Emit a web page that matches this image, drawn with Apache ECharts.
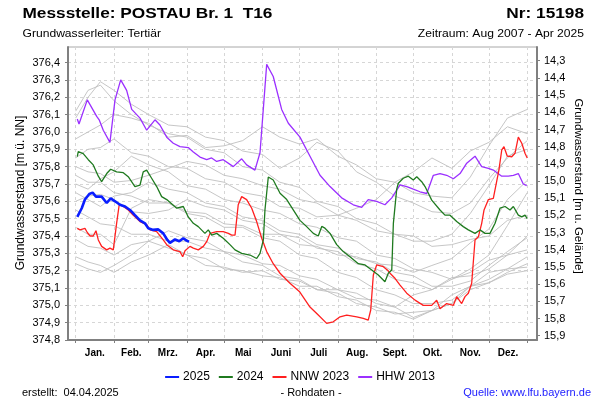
<!DOCTYPE html>
<html><head><meta charset="utf-8">
<script src="https://cdn.jsdelivr.net/npm/echarts@6/dist/echarts.min.js"></script>
<style>html,body{margin:0;padding:0;background:#fff}#c{width:600px;height:400px}</style>
</head><body><div id="c"></div>
<script>
const months = ['Jan.','Feb.','Mrz.','Apr.','Mai','Juni','Juli','Aug.','Sept.','Okt.','Nov.','Dez.'];
const monthStarts = [0,31,59,90,120,151,181,212,243,273,304,334,365];
const monthMids = [15.5,45,74.5,105,135.5,166,196.5,227.5,258,288.5,319,349.5];
const levelTicks = [374.8,374.9,375.0,375.1,375.2,375.3,375.4,375.5,375.6,375.7,375.8,375.9,376.0,376.1,376.2,376.3,376.4];
const depthTicks = [14.3,14.4,14.5,14.6,14.7,14.8,14.9,15.0,15.1,15.2,15.3,15.4,15.5,15.6,15.7,15.8,15.9];

const y2025 = [[1.3,375.51],[2.5,375.50],[4.9,375.56],[7.5,375.61],[11,375.642],[13.7,375.65],[16.4,375.627],[21,375.627],[25.1,375.59],[28.3,375.617],[31.8,375.60],[35.8,375.58],[39.9,375.57],[43.9,375.55],[47.9,375.52],[52,375.49],[56,375.473],[58.7,375.444],[62.7,375.435],[66.8,375.438],[70.8,375.415],[74.1,375.377],[76.2,375.36],[80.3,375.38],[83.8,375.37],[87,375.387],[89.7,375.373],[91.6,375.367]];

const y2024 = [[1.3,375.857],[2.1,375.886],[6.1,375.875],[10.2,375.84],[14.2,375.81],[18.3,375.745],[21,375.713],[22.3,375.713],[25.1,375.76],[28.3,375.785],[33.1,375.77],[38.5,375.765],[42.5,375.742],[47.9,375.685],[52,375.694],[54.6,375.77],[57.4,375.78],[61.4,375.733],[65.5,375.685],[69.5,375.627],[73.6,375.61],[81.7,375.56],[87,375.57],[91,375.51],[95.1,375.473],[99.1,375.454],[104.5,375.415],[107.2,375.435],[109.9,375.405],[114,375.415],[119.3,375.387],[124.7,375.35],[128.8,375.32],[134.2,375.30],[140.9,375.29],[146.3,375.27],[149,375.30],[151.7,375.377],[153,375.55],[155.7,375.74],[159.7,375.723],[165.2,375.646],[170.6,375.61],[181.3,375.49],[186.7,375.454],[192.1,375.415],[196.1,375.40],[198.9,375.455],[201.5,375.445],[205.6,375.415],[211,375.35],[216.3,375.31],[221.7,375.28],[228.5,375.24],[233.9,375.233],[239.3,375.204],[244.6,375.175],[250,375.136],[252.7,375.185],[255.5,375.204],[256.8,375.473],[259.5,375.67],[260.8,375.704],[264.8,375.733],[268.9,375.745],[272.9,375.723],[275.7,375.742],[279.7,375.713],[282.4,375.685],[285.1,375.646],[287.8,375.607],[294.5,375.55],[298.5,375.52],[302.6,375.52],[308,375.483],[313.3,375.454],[317.4,375.435],[322.8,375.415],[326.8,375.435],[330.9,375.415],[334.9,375.415],[339,375.473],[343,375.56],[347.1,375.57],[351.1,375.55],[353.8,375.57],[357.8,375.52],[360.6,375.51],[363.2,375.52],[365,375.50]];

const nnw2023 = [[1.3,375.444],[3.5,375.435],[7.5,375.444],[9.4,375.42],[11.6,375.40],[14.2,375.40],[16.4,375.43],[18.3,375.377],[21,375.34],[25.1,375.32],[27.7,375.33],[30.4,375.32],[31.8,375.315],[33.1,375.473],[35.2,375.58],[38.5,375.57],[42.5,375.55],[46.6,375.52],[52,375.483],[57.4,375.465],[60.1,375.435],[65.5,375.425],[70.8,375.377],[73.6,375.35],[78.9,375.32],[84.3,375.31],[86.5,375.28],[88.4,375.315],[92.4,375.34],[95.1,375.33],[99.1,375.32],[103.2,375.34],[105.9,375.367],[108.6,375.415],[114,375.425],[119.3,375.425],[123.4,375.415],[126.1,375.405],[128.8,375.405],[131.4,375.58],[134.2,375.627],[138.2,375.61],[142.3,375.56],[146.3,375.483],[150.4,375.387],[154.4,375.31],[159.7,375.24],[165.2,375.185],[173.2,375.127],[180.8,375.08],[189.4,374.99],[196.1,374.944],[202.9,374.896],[208.2,374.905],[213.7,374.934],[219.1,374.944],[227.2,374.934],[232.5,374.925],[236.5,374.915],[238.5,374.973],[240.6,375.175],[243.3,375.233],[248.7,375.223],[251.9,375.204],[254.1,375.185],[258.1,375.156],[262.2,375.117],[267.6,375.07],[274.3,375.03],[281,375.00],[287.8,375.00],[291.8,375.03],[294.5,374.98],[299.9,375.01],[305.3,375.00],[308,375.05],[312,375.01],[314.7,375.05],[317.4,375.07],[320.1,375.127],[322.8,375.377],[325.5,375.395],[328.2,375.473],[330.1,375.55],[333.6,375.61],[337.6,375.617],[342.1,375.78],[344.4,375.896],[346.2,375.915],[348.9,375.86],[352.5,375.857],[355.1,375.877],[357.8,375.97],[360.6,375.935],[363.2,375.877],[365,375.85]];

const hhw2013 = [[1.3,376.075],[2.7,376.046],[9.4,376.185],[17,376.09],[19,376.07],[22.3,376.01],[27.7,375.94],[31.8,376.185],[36.4,376.30],[41.2,376.24],[45.3,376.13],[52,376.08],[57.4,376.01],[64.1,376.07],[68.1,376.04],[73.6,375.97],[78.9,375.935],[84.3,375.915],[91,375.91],[95.1,375.885],[100.5,375.855],[105.9,375.84],[109.9,375.85],[114,375.83],[119.3,375.84],[127.4,375.80],[134.2,375.845],[138.2,375.81],[144.9,375.78],[149,375.88],[154.4,376.39],[159.7,376.32],[166.5,376.13],[171.9,376.05],[181.3,375.97],[189.4,375.86],[197.5,375.75],[205.6,375.685],[215,375.62],[224.4,375.58],[231.2,375.565],[236.5,375.61],[243.3,375.60],[250,375.58],[255.5,375.62],[259.5,375.665],[262.2,375.695],[267.6,375.685],[272.9,375.67],[278.3,375.655],[283.8,375.645],[289.1,375.75],[294.5,375.76],[299.9,375.75],[305.3,375.73],[310.7,375.76],[316.1,375.82],[322.8,375.86],[328.2,375.80],[333.6,375.79],[337.6,375.78],[344.4,375.745],[349.7,375.745],[353.8,375.75],[357.8,375.76],[361.8,375.70],[364.6,375.69]];

const greyDays = [0,10,20,31,45,59,75,90,105,120,135,151,165,181,195,212,227,243,258,273,288,304,319,334,349,365];
const greyLines = [
 [376.12,376.24,376.27,376.18,376.10,376.04,375.99,375.97,375.90,375.88,375.80,375.78,375.71,375.68,375.60,375.57,375.50,375.47,375.41,375.40,375.34,375.35,375.38,375.40,375.49,375.52],
 [375.96,376.00,376.04,376.10,376.08,376.05,375.97,375.98,375.91,375.92,375.95,376.03,375.97,375.93,375.96,375.86,375.81,375.73,375.71,375.65,375.63,375.62,375.74,375.92,376.08,376.13],
 [375.85,375.90,375.91,375.96,375.88,375.86,375.80,375.79,375.73,375.71,375.65,375.63,375.57,375.56,375.51,375.52,375.56,375.61,375.71,375.77,375.85,375.79,375.89,375.94,376.03,375.99],
 [375.80,375.77,375.76,375.71,375.72,375.75,375.79,375.83,375.81,375.75,375.73,375.69,375.67,375.61,375.59,375.52,375.49,375.43,375.41,375.37,375.37,375.41,375.53,375.69,375.86,375.90],
 [375.75,375.71,375.71,375.65,375.63,375.59,375.59,375.54,375.53,375.47,375.46,375.41,375.41,375.35,375.34,375.29,375.28,375.24,375.23,375.19,375.23,375.27,375.36,375.44,375.61,375.72],
 [375.70,375.67,375.73,375.77,375.86,375.81,375.77,375.69,375.67,375.61,375.59,375.55,375.53,375.47,375.45,375.39,375.37,375.29,375.27,375.21,375.19,375.15,375.21,375.29,375.46,375.65],
 [375.65,375.61,375.57,375.63,375.65,375.71,375.67,375.65,375.59,375.57,375.51,375.49,375.43,375.41,375.35,375.33,375.27,375.25,375.19,375.17,375.11,375.11,375.14,375.23,375.31,375.39],
 [375.60,375.63,375.64,375.61,375.54,375.53,375.55,375.61,375.57,375.55,375.49,375.47,375.41,375.39,375.33,375.31,375.24,375.21,375.15,375.13,375.09,375.15,375.19,375.26,375.29,375.32],
 [375.55,375.51,375.47,375.46,375.41,375.41,375.37,375.37,375.33,375.31,375.25,375.23,375.17,375.15,375.09,375.07,375.01,374.99,374.95,374.96,374.97,375.06,375.11,375.19,375.21,375.28],
 [375.45,375.41,375.41,375.35,375.56,375.61,375.59,375.53,375.51,375.45,375.45,375.39,375.37,375.29,375.27,375.19,375.16,375.09,375.06,375.01,375.01,375.03,375.11,375.15,375.21,375.22],
 [375.38,375.34,375.33,375.29,375.35,375.37,375.43,375.39,375.37,375.31,375.29,375.24,375.23,375.17,375.15,375.09,375.07,375.01,374.99,374.93,374.97,375.01,375.11,375.13,375.18,375.20],
 [375.28,375.25,375.23,375.19,375.25,375.29,375.35,375.29,375.27,375.21,375.20,375.17,375.16,375.11,375.11,375.05,375.03,374.97,374.96,374.92,374.97,375.01,375.09,375.13,375.19,375.24],
 [375.24,375.21,375.19,375.23,375.29,375.37,375.33,375.29,375.23,375.22,375.19,375.20,375.15,375.14,375.09,375.09,375.04,375.03,374.99,375.06,375.09,375.16,375.17,375.21,375.29,375.40],
 [376.08,376.20,376.29,376.24,376.16,376.10,376.04,376.03,375.97,375.95,375.89,375.87,375.79,375.85,375.94,375.89,375.77,375.71,375.63,375.59,375.54,375.53,375.59,375.73,375.85,375.95]
];

const FONT = '"Liberation Sans", Arial, sans-serif';
const fmt = v => v.toFixed(1).replace('.', ',');

const series = [];
greyLines.forEach((vals, i) => {
  series.push({
    name: 'grey' + i, type: 'line', xAxisIndex: 0, yAxisIndex: 0,
    data: greyDays.map((d, k) => [d, vals[k]]).filter(p => p[1] !== undefined),
    symbol: 'none', silent: true, z: 1,
    lineStyle: { color: '#bfbfbf', width: 0.9 }
  });
});
series.push({ name: 'HHW 2013', type: 'line', data: hhw2013, symbol: 'none', z: 3, lineStyle: { color: '#9b30ff', width: 1.3 }, itemStyle: { color: '#9b30ff' } });
series.push({ name: 'NNW 2023', type: 'line', data: nnw2023, symbol: 'none', z: 4, lineStyle: { color: '#ff2020', width: 1.3 }, itemStyle: { color: '#ff2020' } });
series.push({ name: '2024', type: 'line', data: y2024, symbol: 'none', z: 5, lineStyle: { color: '#1f7a1f', width: 1.3 }, itemStyle: { color: '#1f7a1f' } });
series.push({ name: '2025', type: 'line', data: y2025, symbol: 'none', z: 6, lineStyle: { color: '#0a1eff', width: 2.6 }, itemStyle: { color: '#0a1eff' } });

const chart = echarts.init(document.getElementById('c'), null, { renderer: 'canvas' });
chart.setOption({
  animation: false,
  backgroundColor: '#fff',
  textStyle: { fontFamily: FONT },
  grid: { left: 68, right: 63, top: 47, bottom: 60, show: true, borderColor: '#a8a8a8', borderWidth: 1 },
  legend: {
    data: ['2025', '2024', 'NNW 2023', 'HHW 2013'],
    left: 'center', top: 366, icon: 'rect', itemWidth: 14, itemHeight: 2, itemGap: 9,
    textStyle: { fontSize: 12, color: '#000', fontFamily: FONT, padding: [0, 0, 0, -1] }
  },
  xAxis: {
    type: 'value', min: -6.2, max: 372.9,
    axisLine: { show: true, onZero: false, lineStyle: { color: '#808080', width: 2 } },
    axisTick: { show: true, length: 3, customValues: monthStarts, lineStyle: { color: '#808080' } },
    axisLabel: { customValues: monthMids, margin: 8, fontSize: 10, fontWeight: 'bold', color: '#000', fontFamily: FONT,
      formatter: v => months[monthMids.indexOf(v)] || '' },
    splitLine: { show: true, lineStyle: { color: '#d6d6d6', type: [3, 3], width: 1 } }
  },
  yAxis: [{
    type: 'value', min: 374.8, max: 376.49, position: 'left',
    axisLine: { show: true, onZero: false, lineStyle: { color: '#808080', width: 2 } },
    axisTick: { show: true, length: 3, customValues: levelTicks, lineStyle: { color: '#808080' } },
    axisLabel: { customValues: levelTicks, margin: 8, fontSize: 11, color: '#000', fontFamily: FONT, formatter: fmt },
    splitLine: { show: true, lineStyle: { color: '#d6d6d6', type: [3, 3], width: 1 } }
  }, {
    type: 'value', min: 14.22, max: 15.925, inverse: true, position: 'right',
    axisLine: { show: true, onZero: false, lineStyle: { color: '#808080', width: 2 } },
    axisTick: { show: true, length: 3, customValues: depthTicks, lineStyle: { color: '#808080' } },
    axisLabel: { customValues: depthTicks, margin: 7, fontSize: 11, color: '#000', fontFamily: FONT, formatter: fmt },
    splitLine: { show: false }
  }],
  graphic: [
    { type: 'text', x: 22.5, y: 14, scaleX: 1.15, style: { text: 'Messstelle: POSTAU Br. 1  T16', fontSize: 15, fontWeight: 'bold', fontFamily: FONT, fill: '#000', textAlign: 'left', textVerticalAlign: 'middle' } },
    { type: 'text', x: 22.5, y: 33.5, scaleX: 1.1, style: { text: 'Grundwasserleiter: Tertiär', fontSize: 11, fontFamily: FONT, fill: '#000', textAlign: 'left', textVerticalAlign: 'middle' } },
    { type: 'text', x: 584, y: 14, scaleX: 1.15, style: { text: 'Nr: 15198', fontSize: 15, fontWeight: 'bold', fontFamily: FONT, fill: '#000', textAlign: 'right', textVerticalAlign: 'middle' } },
    { type: 'text', x: 584, y: 33.5, scaleX: 1.1, style: { text: 'Zeitraum: Aug 2007 - Apr 2025', fontSize: 11, fontFamily: FONT, fill: '#000', textAlign: 'right', textVerticalAlign: 'middle' } },
    { type: 'text', x: 21, y: 193, rotation: Math.PI / 2, style: { text: 'Grundwasserstand [m ü. NN]', fontSize: 12, fontFamily: FONT, fill: '#000', textAlign: 'center', textVerticalAlign: 'middle' } },
    { type: 'text', x: 578, y: 186, rotation: -Math.PI / 2, style: { text: 'Grundwasserstand [m u. Gelände]', fontSize: 11.5, fontFamily: FONT, fill: '#000', textAlign: 'center', textVerticalAlign: 'middle' } },
    { type: 'text', x: 22, y: 393.3, style: { text: 'erstellt:  04.04.2025', fontSize: 11, fontFamily: FONT, fill: '#000', textAlign: 'left', textVerticalAlign: 'middle' } },
    { type: 'text', x: 311, y: 393.3, style: { text: '- Rohdaten -', fontSize: 11, fontFamily: FONT, fill: '#000', textAlign: 'center', textVerticalAlign: 'middle' } },
    { type: 'text', x: 591, y: 393.3, style: { text: 'Quelle: www.lfu.bayern.de', fontSize: 11, fontFamily: FONT, fill: '#1a1aff', textAlign: 'right', textVerticalAlign: 'middle' } }
  ],
  series: series
});
</script></body></html>
